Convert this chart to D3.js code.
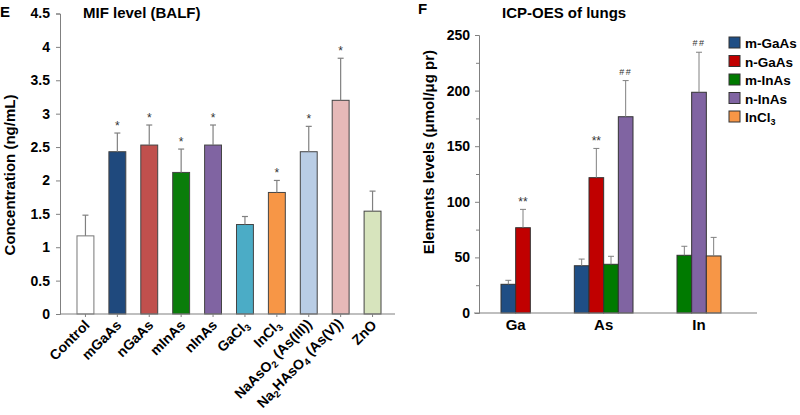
<!DOCTYPE html>
<html lang="en">
<head>
  <meta charset="UTF-8" />
  <title>MIF level and ICP-OES of lungs</title>
  <script src="https://cdn.jsdelivr.net/npm/d3@7"></script>
  <style>
    body { margin: 0; background: #fff; }
    svg { font-family: "Liberation Sans", Arial, sans-serif; }
    .tick text { font-weight: bold; fill: #000; }
  </style>
</head>
<body>
  <svg id="fig" width="800" height="415"></svg>
  <script>
    // ---- panel E: MIF level (BALF) ----
    const mifLabels = ["Control", "mGaAs", "nGaAs", "mInAs", "nInAs", "GaCl_3", "InCl_3",
      "NaAsO_2 (As(III))", "Na_2HAsO_4 (As(V))", "ZnO"];
    const mifValues = [1.17, 2.43, 2.53, 2.12, 2.53, 1.34, 1.82, 2.43, 3.20, 1.54];
    const mifErrors = [0.31, 0.28, 0.30, 0.35, 0.30, 0.12, 0.18, 0.38, 0.63, 0.30];
    const mifMarks = ["", "*", "*", "*", "*", "", "*", "*", "*", ""];
    const mifColors = ["#ffffff", "#1f497d", "#c0504d", "#0a7d0a", "#8064a2", "#4bacc6",
      "#f79646", "#b9cde5", "#e6b9b8", "#d7e4bd"];
    const mifTicks = [0, 0.5, 1, 1.5, 2, 2.5, 3, 3.5, 4, 4.5];

    // ---- panel F: ICP-OES of lungs ----
    const elements = ["Ga", "As", "In"];
    const icpSeries = ["m-GaAs", "n-GaAs", "m-InAs", "n-InAs", "InCl_3"];
    const icpColors = ["#1f4e85", "#c00000", "#007a00", "#8064a2", "#f79646"];
    const mGaAs = [25.8, 42.5, null];
    const nGaAs = [76.7, 121.7, null];
    const mInAs = [null, 43.8, 51.9];
    const nInAs = [null, 176.5, 198.5];
    const inCl3 = [null, null, 51.3];
    const mGaAsErr = [3.6, 6.0, null];
    const nGaAsErr = [16.5, 26.3, null];
    const mInAsErr = [null, 7.2, 8.1];
    const nInAsErr = [null, 32.5, 36.0];
    const inCl3Err = [null, null, 16.7];
    const nGaAsMarks = ["**", "**", ""];
    const nInAsMarks = ["", "##", "##"];
    const icpMajorTicks = [0, 50, 100, 150, 200, 250];
    const icpMinorTicks = [25, 75, 125, 175, 225];

    const svg = d3.select("#fig");
    const axisGray = "#808080";

    // split "GaCl_3" into normal / subscript pieces
    function addRich(textSel, label, subSize) {
      const parts = label.split(/_(\d)/);
      parts.forEach((p, i) => {
        if (!p) return;
        const t = textSel.append("tspan").text(p);
        if (i % 2 === 1) {
          t.attr("font-size", subSize).attr("dy", "0.3em");
        } else if (i > 0) {
          t.attr("dy", "-0.3em");
        }
      });
    }

    // ================= panel E =================
    const yE = d3.scaleLinear().domain([0, 4.5]).range([314, 13.5]);
    const xE = d3.scaleBand().domain(mifLabels).range([62, 396]).padding(0.47);
    const axE = 60;

    svg.append("text").attr("x", 0).attr("y", 17).attr("font-size", 15)
      .attr("font-weight", "bold").text("E");
    svg.append("text").attr("x", 83).attr("y", 18).attr("font-size", 15)
      .attr("font-weight", "bold").text("MIF level (BALF)");

    svg.append("g")
      .attr("transform", `translate(${axE},0)`)
      .call(d3.axisLeft(yE).tickValues(mifTicks).tickSize(4).tickPadding(6)
        .tickFormat(d3.format("")))
      .call(g => g.selectAll("text").attr("font-size", 14))
      .call(g => g.selectAll("line, .domain").attr("stroke", axisGray));

    svg.append("text")
      .attr("transform", `translate(15,175) rotate(-90)`)
      .attr("text-anchor", "middle").attr("font-size", 15).attr("font-weight", "bold")
      .text("Concentration (ng/mL)");

    // bars
    svg.append("g").selectAll("rect").data(mifLabels).join("rect")
      .attr("x", d => xE(d))
      .attr("y", (d, i) => yE(mifValues[i]))
      .attr("width", xE.bandwidth())
      .attr("height", (d, i) => yE(0) - yE(mifValues[i]))
      .attr("fill", (d, i) => mifColors[i])
      .attr("stroke", (d, i) => i === 0 ? "#777" : "#444")
      .attr("stroke-width", 1);

    // error bars (upper only)
    const errE = svg.append("g").attr("stroke", axisGray).attr("stroke-width", 1.2);
    mifLabels.forEach((d, i) => {
      const cx = xE(d) + xE.bandwidth() / 2;
      const top = yE(mifValues[i] + mifErrors[i]);
      errE.append("line").attr("x1", cx).attr("x2", cx)
        .attr("y1", yE(mifValues[i])).attr("y2", top);
      errE.append("line").attr("x1", cx - 3).attr("x2", cx + 3)
        .attr("y1", top).attr("y2", top);
    });

    svg.append("g").selectAll("text").data(mifLabels).join("text")
      .attr("x", d => xE(d) + xE.bandwidth() / 2)
      .attr("y", (d, i) => yE(mifValues[i] + mifErrors[i]) - 3)
      .attr("text-anchor", "middle").attr("font-size", 12).attr("fill", "#333")
      .text((d, i) => mifMarks[i]);

    // x axis
    svg.append("line").attr("x1", axE).attr("x2", 395)
      .attr("y1", yE(0)).attr("y2", yE(0)).attr("stroke", axisGray).attr("stroke-width", 1.2);
    svg.append("g")
      .attr("transform", `translate(0,${yE(0)})`)
      .call(d3.axisBottom(xE).tickSize(3).tickFormat(""))
      .call(g => g.select(".domain").remove())
      .call(g => g.selectAll("line").attr("stroke", axisGray));
    mifLabels.forEach(d => {
      const cx = xE(d) + xE.bandwidth() / 2;
      const t = svg.append("text")
        .attr("transform", `translate(${cx + 5},${yE(0) + 12}) rotate(-45)`)
        .attr("text-anchor", "end").attr("font-size", 14).attr("font-weight", "bold");
      addRich(t, d, 9.5);
    });

    // ================= panel F =================
    const yF = d3.scaleLinear().domain([0, 250]).range([313, 35]);
    const x0 = d3.scaleBand().domain(elements).range([501, 721]);
    const x1 = d3.scaleBand().domain(icpSeries).range([0, x0.bandwidth()]);
    const axF = 479;

    const icpValues = [mGaAs, nGaAs, mInAs, nInAs, inCl3];
    const icpErrors = [mGaAsErr, nGaAsErr, mInAsErr, nInAsErr, inCl3Err];
    const icpMarks = [[], nGaAsMarks, [], nInAsMarks, []];

    svg.append("text").attr("x", 418).attr("y", 14).attr("font-size", 15)
      .attr("font-weight", "bold").text("F");
    svg.append("text").attr("x", 502).attr("y", 18).attr("font-size", 15)
      .attr("font-weight", "bold").text("ICP-OES of lungs");

    svg.append("g")
      .attr("transform", `translate(${axF},0)`)
      .call(d3.axisLeft(yF).tickValues(icpMajorTicks).tickSize(4).tickPadding(5))
      .call(g => g.selectAll("text").attr("font-size", 14))
      .call(g => g.selectAll("line, .domain").attr("stroke", axisGray));
    svg.append("g")
      .attr("transform", `translate(${axF},0)`)
      .call(d3.axisLeft(yF).tickValues(icpMinorTicks).tickSize(3).tickFormat(""))
      .call(g => g.select(".domain").remove())
      .call(g => g.selectAll("line").attr("stroke", axisGray));

    svg.append("text")
      .attr("transform", `translate(434,152) rotate(-90)`)
      .attr("text-anchor", "middle").attr("font-size", 15).attr("font-weight", "bold")
      .text("Elements levels (μmol/μg pr)");

    const barsF = [];
    icpSeries.forEach((s, si) => {
      elements.forEach((e, ei) => {
        const v = icpValues[si][ei];
        if (v == null) return;
        barsF.push({ s, si, e, ei, v, err: icpErrors[si][ei], mark: icpMarks[si][ei] || "" });
      });
    });

    svg.append("g").selectAll("rect").data(barsF).join("rect")
      .attr("x", d => x0(d.e) + x1(d.s))
      .attr("y", d => yF(d.v))
      .attr("width", x1.bandwidth())
      .attr("height", d => yF(0) - yF(d.v))
      .attr("fill", d => icpColors[d.si])
      .attr("stroke", "#333").attr("stroke-width", 1);

    const errF = svg.append("g").attr("stroke", axisGray).attr("stroke-width", 1);
    barsF.forEach(d => {
      const cx = x0(d.e) + x1(d.s) + x1.bandwidth() / 2;
      const top = yF(d.v + d.err);
      errF.append("line").attr("x1", cx).attr("x2", cx).attr("y1", yF(d.v)).attr("y2", top);
      errF.append("line").attr("x1", cx - 3).attr("x2", cx + 3).attr("y1", top).attr("y2", top);
    });

    svg.append("g").selectAll("text").data(barsF.filter(d => d.mark)).join("text")
      .attr("x", d => x0(d.e) + x1(d.s) + x1.bandwidth() / 2)
      .attr("y", d => yF(d.v + d.err) - (d.mark === "##" ? 6 : 3))
      .attr("text-anchor", "middle").attr("font-size", d => d.mark === "##" ? 9 : 12)
      .attr("letter-spacing", d => d.mark === "##" ? 1.5 : 0)
      .attr("fill", "#333")
      .text(d => d.mark);

    // x axis line and element labels (centred under the bars present)
    svg.append("line").attr("x1", 474).attr("x2", 757)
      .attr("y1", yF(0)).attr("y2", yF(0)).attr("stroke", axisGray).attr("stroke-width", 1.2);
    elements.forEach(e => {
      const xs = barsF.filter(d => d.e === e).map(d => x0(e) + x1(d.s) + x1.bandwidth() / 2);
      svg.append("text").attr("x", d3.mean(xs)).attr("y", 330)
        .attr("text-anchor", "middle").attr("font-size", 15).attr("font-weight", "bold")
        .text(e);
    });

    // legend
    const leg = svg.append("g").attr("transform", "translate(729,37)");
    icpSeries.forEach((s, i) => {
      const row = leg.append("g").attr("transform", `translate(0,${i * 18.5})`);
      row.append("rect").attr("width", 11).attr("height", 11)
        .attr("fill", icpColors[i]).attr("stroke", "#333");
      const t = row.append("text").attr("x", 16).attr("y", 11)
        .attr("font-size", 13.5).attr("font-weight", "bold");
      addRich(t, s, 9);
    });
  </script>
</body>
</html>
